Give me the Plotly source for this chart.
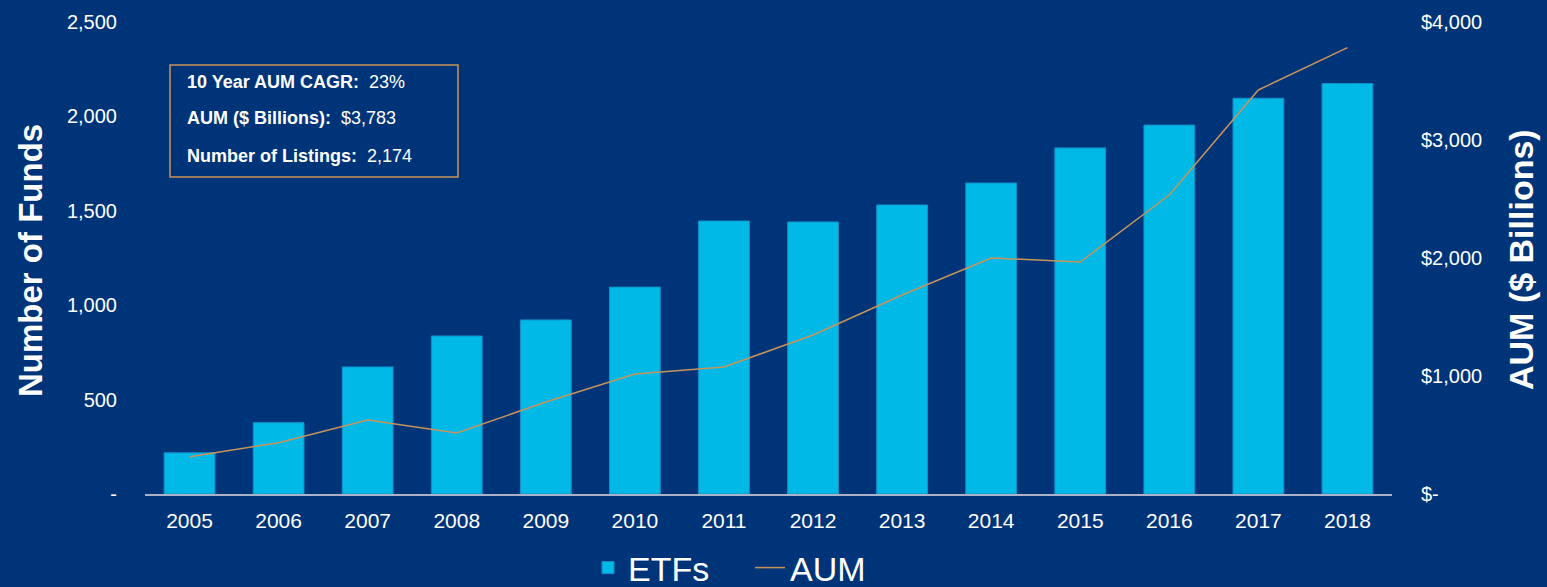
import plotly.graph_objects as go

years = ["2005", "2006", "2007", "2008", "2009", "2010", "2011", "2012",
         "2013", "2014", "2015", "2016", "2017", "2018"]
etf_counts = [218, 378, 673, 837, 922, 1096, 1446, 1441, 1531, 1647, 1833, 1954, 2096, 2174]
aum_billions = [316, 435, 627, 517, 780, 1017, 1076, 1347, 1686, 2000, 1966, 2534, 3424, 3783]

left_ticks = [0, 500, 1000, 1500, 2000, 2500]
left_labels = ["-", "500", "1,000", "1,500", "2,000", "2,500"]
right_ticks = [0, 1000, 2000, 3000, 4000]
right_labels = ["$-", "$1,000", "$2,000", "$3,000", "$4,000"]

info_labels = ["10 Year AUM CAGR:", "AUM ($ Billions):", "Number of Listings:"]
info_values = ["23%", "$3,783", "2,174"]

BG = "#003479"
FONT = "Liberation Sans, Arial, sans-serif"
W, H = 1547, 587
ML, MR, MT, MB = 145, 155, 22, 93
PW, PH = W - ML - MR, H - MT - MB


def px_x(x):
    return (x - ML) / PW


def px_y(y):
    return (H - MB - y) / PH


fig = go.Figure()
fig.add_trace(go.Bar(
    x=years, y=etf_counts, name="ETFs",
    marker=dict(color="#00b9e6", line=dict(color="#1390c8", width=1)),
    width=0.57, yaxis="y",
))
fig.add_trace(go.Scatter(
    x=years, y=aum_billions, name="AUM", mode="lines",
    line=dict(color="#c8945a", width=1.5), yaxis="y2",
))

annotations = [
    dict(text="<b>Number of Funds</b>", textangle=-90, xref="paper", yref="paper",
         x=px_x(30), y=px_y(261), xanchor="center", yanchor="middle", showarrow=False,
         font=dict(size=33, color="white")),
    dict(text="<b>AUM ($ Billions)</b>", textangle=-90, xref="paper", yref="paper",
         x=px_x(1521), y=px_y(260), xanchor="center", yanchor="middle", showarrow=False,
         font=dict(size=34, color="white")),
]
line_ys = [82, 118, 156]
for lab, val, yy in zip(info_labels, info_values, line_ys):
    annotations.append(dict(
        text=f"<b>{lab}</b>  {val}", xref="paper", yref="paper",
        x=px_x(185), y=px_y(yy), xanchor="left", yanchor="middle",
        align="left", showarrow=False, font=dict(size=18, color="white")))

fig.update_layout(
    width=W, height=H,
    paper_bgcolor=BG, plot_bgcolor=BG,
    margin=dict(l=ML, r=MR, t=MT, b=MB, autoexpand=False),
    font=dict(family=FONT, color="white", size=20),
    showlegend=True,
    legend=dict(orientation="h", x=px_x(588), xanchor="left", y=px_y(539), yanchor="top",
                font=dict(size=34, color="white"), bgcolor="rgba(0,0,0,0)",
                itemwidth=30, entrywidth=117, entrywidthmode="pixels", tracegroupgap=0),
    xaxis=dict(type="category", showgrid=False, showline=True, linecolor="#a9b2c8",
               linewidth=2, ticks="", tickfont=dict(size=21), ticklabelstandoff=7,
               zeroline=False),
    yaxis=dict(range=[0, 2500], tickvals=left_ticks, ticktext=left_labels,
               showgrid=False, zeroline=False, showline=False, ticks="",
               tickfont=dict(size=20), ticklabelstandoff=27),
    yaxis2=dict(range=[0, 4000], tickvals=right_ticks, ticktext=right_labels,
                overlaying="y", side="right", showgrid=False, zeroline=False,
                showline=False, ticks="", tickfont=dict(size=20), ticklabelstandoff=28),
    shapes=[dict(type="rect", xref="paper", yref="paper",
                 x0=px_x(170), x1=px_x(458), y0=px_y(177), y1=px_y(65),
                 line=dict(color="#c8945a", width=1.5), fillcolor=BG, layer="above")],
    annotations=annotations,
)

fig.write_html("out.html", config={"displayModeBar": False},
               post_script="document.body.style.margin='0';document.body.style.background='%s';" % BG)
